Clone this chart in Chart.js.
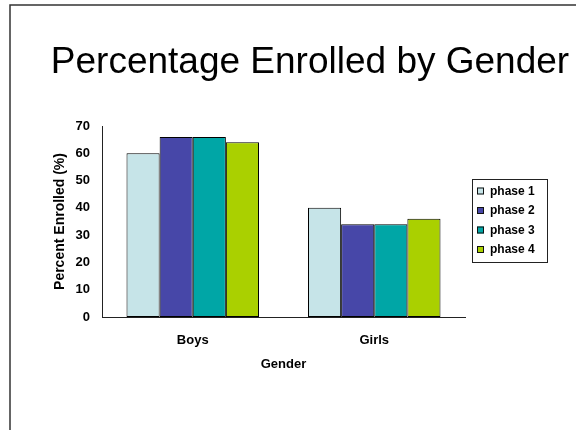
<!DOCTYPE html>
<html>
<head>
<meta charset="utf-8">
<script src="https://cdn.jsdelivr.net/npm/chart.js@4/dist/chart.umd.min.js"></script>
<style>
  html, body { margin: 0; padding: 0; background: #fff; }
  #wrap { width: 576px; height: 430px; position: relative; }
</style>
</head>
<body>
<div id="wrap"><canvas id="enrollChart" width="576" height="430"></canvas></div>
<script>
// ===== data =====
const categories = ["Boys", "Girls"];
const seriesNames = ["phase 1", "phase 2", "phase 3", "phase 4"];
const phase1 = [60, 40];
const phase2 = [66, 34];
const phase3 = [66, 34];
const phase4 = [64, 36];
const yTicks = [0, 10, 20, 30, 40, 50, 60, 70];

const seriesValues = [phase1, phase2, phase3, phase4];
const seriesColors = ["#C6E4E8", "#4747A8", "#00A6A6", "#AAD000"];

const FONT = "Arial, 'Liberation Sans', sans-serif";

// title, slide border and boxed legend
const slidePlugin = {
  id: "slideDecor",
  afterDraw(chart) {
    const ctx = chart.ctx;
    ctx.save();

    // slide frame (top + left edge)
    ctx.strokeStyle = "#333";
    ctx.lineWidth = 1.5;
    ctx.beginPath();
    ctx.moveTo(10, 430);
    ctx.lineTo(10, 5);
    ctx.lineTo(576, 5);
    ctx.stroke();

    // title
    ctx.fillStyle = "#000";
    ctx.font = "37px " + FONT;
    ctx.textAlign = "center";
    ctx.textBaseline = "middle";
    ctx.fillText("Percentage Enrolled by Gender", 310, 63);

    // legend box
    const lx = 472, ly = 179, lw = 75, lh = 83;
    ctx.strokeStyle = "#222";
    ctx.lineWidth = 1;
    ctx.strokeRect(lx + 0.5, ly + 0.5, lw, lh);

    ctx.font = "bold 12px " + FONT;
    ctx.textAlign = "left";
    chart.data.datasets.forEach((ds, i) => {
      const cy = 191 + i * 19.5;
      ctx.fillStyle = ds.backgroundColor;
      ctx.fillRect(477, cy - 3.5, 7, 7);
      ctx.strokeStyle = "#111";
      ctx.strokeRect(477.5, cy - 3, 6, 6);
      ctx.fillStyle = "#000";
      ctx.fillText(ds.label, 490, cy + 0.5);
    });

    ctx.restore();
  },
};

const ctx = document.getElementById("enrollChart").getContext("2d");
new Chart(ctx, {
  type: "bar",
  data: {
    labels: categories,
    datasets: seriesNames.map((name, i) => ({
      label: name,
      data: seriesValues[i],
      backgroundColor: seriesColors[i],
      borderColor: "#000",
      borderWidth: 1,
      borderSkipped: false,
      categoryPercentage: 0.73,
      barPercentage: 1.0,
    })),
  },
  options: {
    responsive: false,
    animation: false,
    devicePixelRatio: 1,
    layout: {
      padding: { top: 126, left: 48, right: 111, bottom: 56 },
    },
    plugins: {
      legend: { display: false },
      title: { display: false },
      tooltip: { enabled: false },
    },
    scales: {
      x: {
        afterFit(scale) {
          scale.height = 57;
        },
        grid: { display: false, drawTicks: false },
        border: { display: true, color: "#222", width: 1 },
        ticks: {
          color: "#000",
          padding: 16,
          font: { family: FONT, size: 13, weight: "bold" },
        },
        title: {
          display: true,
          text: "Gender",
          color: "#000",
          padding: { top: 4, bottom: 2 },
          font: { family: FONT, size: 13, weight: "bold" },
        },
      },
      y: {
        min: 0,
        max: 70,
        afterFit(scale) {
          scale.width = 54;
        },
        afterBuildTicks(scale) {
          scale.ticks = yTicks.map((v) => ({ value: v }));
        },
        grid: { display: false, drawTicks: false },
        border: { display: true, color: "#222", width: 1 },
        ticks: {
          color: "#000",
          padding: 12,
          font: { family: FONT, size: 13, weight: "bold" },
        },
        title: {
          display: true,
          text: "Percent Enrolled (%)",
          color: "#000",
          padding: { top: 4, bottom: 4 },
          font: { family: FONT, size: 14, weight: "bold" },
        },
      },
    },
  },
  plugins: [slidePlugin],
});
</script>
</body>
</html>
